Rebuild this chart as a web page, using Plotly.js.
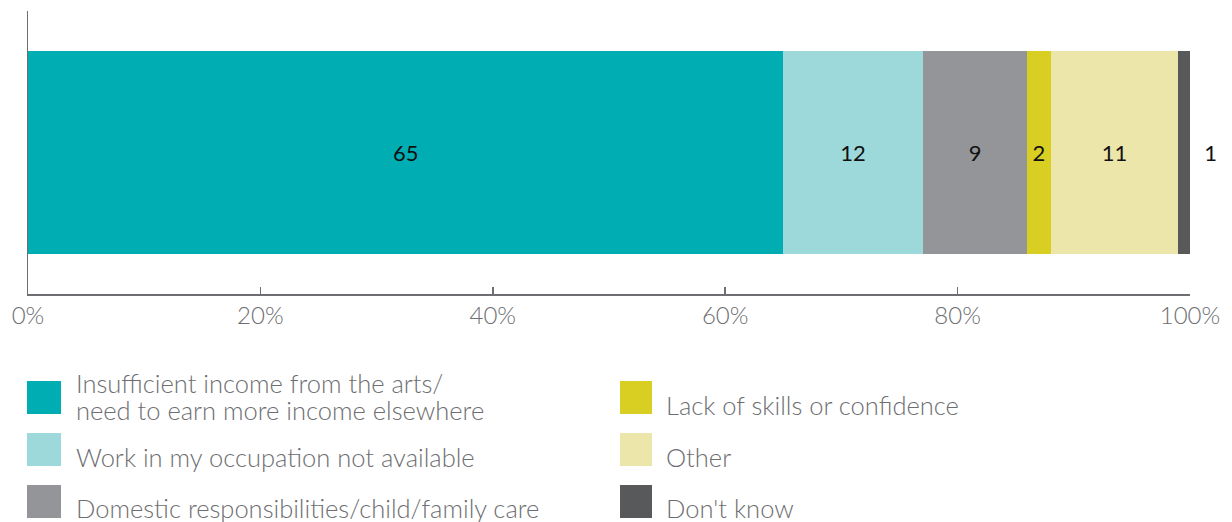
<!DOCTYPE html>
<html>
<head>
<meta charset="utf-8">
<script src="https://cdn.plot.ly/plotly-3.0.1.min.js"></script>
<style>html,body{margin:0;padding:0;background:#fff;}#chart{width:1232px;height:522px;}</style>
</head>
<body>
<div id="chart"></div>
<script>
const categories = ["Insufficient income from the arts/<br>need to earn more income elsewhere",
  "Work in my occupation not available",
  "Domestic responsibilities/child/family care",
  "Lack of skills or confidence",
  "Other",
  "Don't know"];
const values = [65, 12, 9, 2, 11, 1];
const colors = ["#00adb2", "#9dd9da", "#939598", "#d9cf23", "#ede6ab", "#58595b"];
const tickVals = [0, 20, 40, 60, 80, 100];
const tickText = ["0%", "20%", "40%", "60%", "80%", "100%"];

const W = 1232, H = 522;
const L = 28, R = 1190, T = 11, B = 294;
const FONT = "Lato, 'Open Sans', sans-serif";
const px = x => (x - L) / (R - L);
const py = y => (B - y) / (B - T);

const traces = values.map((v, i) => ({
  type: 'bar', orientation: 'h',
  x: [v], y: ['a'],
  name: categories[i],
  marker: {color: colors[i], line: {width: 0}},
  text: [String(v)],
  texttemplate: i === values.length - 1 ? '  %{text}' : '%{text}',
  textposition: i === values.length - 1 ? 'outside' : 'inside',
  insidetextanchor: 'middle',
  textangle: 0,
  constraintext: 'none',
  cliponaxis: false,
  textfont: {family: FONT, size: 22, color: '#111111', weight: 400},
  insidetextfont: {family: FONT, size: 22, color: '#111111', weight: 400},
  outsidetextfont: {family: FONT, size: 22, color: '#111111', weight: 400},
  hoverinfo: 'none'
}));

// legend layout (two columns of three)
const sqX = [[27, 61], [620, 652]];
const txtX = [74, 664];
const sqY = [[381, 414], [433, 466], [485, 518]];
const txtY = [[396, 457, 508], [405, 457, 508]];
const lineGap = 27;
const shapes = [], annotations = [];
categories.forEach((c, i) => {
  const col = Math.floor(i / 3), row = i % 3;
  shapes.push({type: 'rect', xref: 'paper', yref: 'paper',
    x0: px(sqX[col][0]), x1: px(sqX[col][1]),
    y0: py(sqY[row][1]), y1: py(sqY[row][0]),
    fillcolor: colors[i], line: {width: 0}});
  const lines = c.split('<br>');
  lines.forEach((ln, k) => {
    const cy = txtY[col][row] + (k - (lines.length - 1) / 2) * lineGap;
    annotations.push({xref: 'paper', yref: 'paper', x: px(txtX[col]), y: py(cy),
      xanchor: 'left', yanchor: 'middle', align: 'left', showarrow: false,
      text: ln, font: {family: FONT, size: 25.5, color: '#6d6e71', weight: 300}});
  });
});

const layout = {
  width: W, height: H,
  margin: {l: L, r: W - R, t: T, b: H - B, pad: 0},
  paper_bgcolor: '#fff', plot_bgcolor: '#fff',
  barmode: 'stack', bargap: 0.28,
  showlegend: false,
  xaxis: {range: [0, 100], tickvals: tickVals, ticktext: tickText,
    showgrid: false, zeroline: false, showline: true, linecolor: '#6d6e71', linewidth: 1.5,
    ticks: 'inside', ticklen: 7, tickwidth: 1.5, tickcolor: '#6d6e71',
    tickfont: {family: FONT, size: 24, color: '#6d6e71', weight: 300}, fixedrange: true},
  yaxis: {showticklabels: false, showgrid: false, zeroline: false, showline: true,
    linecolor: '#6d6e71', linewidth: 1.5, ticks: '', fixedrange: true},
  shapes: shapes,
  annotations: annotations
};

Plotly.newPlot('chart', traces, layout, {displayModeBar: false, staticPlot: true});
</script>
</body>
</html>
